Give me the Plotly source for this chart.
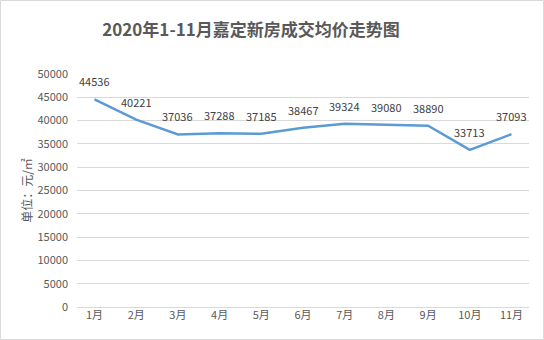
import plotly.graph_objects as go

months = ["1月", "2月", "3月", "4月", "5月", "6月", "7月", "8月", "9月", "10月", "11月"]
prices = [44536, 40221, 37036, 37288, 37185, 38467, 39324, 39080, 38890, 33713, 37093]
y_ticks = [0, 5000, 10000, 15000, 20000, 25000, 30000, 35000, 40000, 45000, 50000]

CJK = "'Noto Sans CJK SC', sans-serif"

fig = go.Figure()
fig.add_trace(go.Scatter(
    x=months, y=prices, mode="lines",
    line=dict(color="#5B9BD5", width=2.5),
    hoverinfo="skip",
))
for m, v in zip(months, prices):
    fig.add_annotation(x=m, y=v, text=str(v), showarrow=False, yshift=18,
                       font=dict(size=11, color="#404040", family=CJK))

fig.update_layout(
    width=544, height=340,
    margin=dict(l=77, r=15, t=74, b=33),
    paper_bgcolor="white", plot_bgcolor="white",
    showlegend=False,
    title=dict(text="<b>2020年1-11月嘉定新房成交均价走势图</b>",
               x=251 / 544, xref="container", xanchor="center",
               y=1 - 30 / 340, yanchor="middle",
               font=dict(size=17, color="#595959", family=CJK)),
    xaxis=dict(type="category", showgrid=False, showline=False, ticks="",
               tickfont=dict(size=11, color="#595959", family=CJK)),
    yaxis=dict(range=[0, 50000], tickvals=y_ticks, tickformat="d",
               showgrid=True, gridcolor="#D9D9D9",
               gridwidth=1, zeroline=True, zerolinecolor="#D9D9D9", zerolinewidth=1,
               showline=False, ticks="", ticklabelstandoff=8,
               tickfont=dict(size=11, color="#595959", family=CJK),
               title=dict(text="单位：元/㎡", standoff=2,
                          font=dict(size=12, color="#595959", family=CJK))),
)
fig.add_shape(type="rect", xref="paper", yref="paper", x0=-76.5 / 452, x1=1 + 14.5 / 452,
              y0=-32.5 / 233, y1=1 + 73.5 / 233, line=dict(color="#D9D9D9", width=1))
fig.write_html("out.html")
